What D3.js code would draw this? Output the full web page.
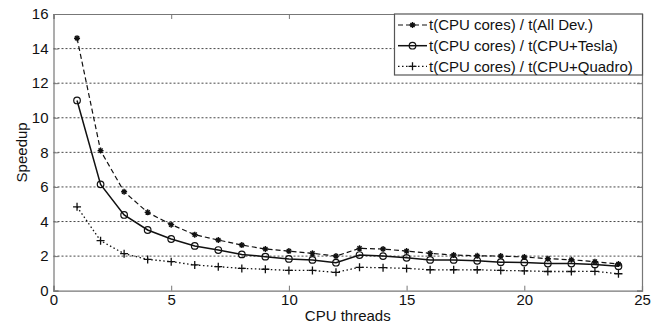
<!DOCTYPE html>
<html>
<head>
<meta charset="utf-8">
<script src="https://cdn.jsdelivr.net/npm/d3@7"></script>
<style>
  body { margin: 0; background: #fff; }
  svg { display: block; font-family: "Liberation Sans", Arial, sans-serif; }
</style>
</head>
<body>
<div id="chart"></div>
<script>
// Width and height
var chart_width  = 657;
var chart_height = 323;

// data
var threads = [1,2,3,4,5,6,7,8,9,10,11,12,13,14,15,16,17,18,19,20,21,22,23,24];
var allDev  = [14.6,8.1,5.72,4.53,3.82,3.24,2.93,2.64,2.41,2.29,2.16,2.0,2.45,2.41,2.29,2.16,2.06,2.02,2.0,1.95,1.85,1.79,1.68,1.54];
var tesla   = [11.0,6.15,4.38,3.51,2.99,2.59,2.35,2.1,1.97,1.84,1.78,1.62,2.06,2.0,1.9,1.78,1.78,1.73,1.65,1.63,1.57,1.57,1.52,1.42];
var quadro  = [4.85,2.89,2.14,1.81,1.68,1.49,1.39,1.29,1.24,1.17,1.17,1.06,1.35,1.33,1.29,1.21,1.21,1.21,1.17,1.15,1.11,1.11,1.12,0.98];
var x_ticks = [0,5,10,15,20,25];
var y_ticks = [0,2,4,6,8,10,12,14,16];
var legend_labels = ["t(CPU cores) / t(All Dev.)", "t(CPU cores) / t(CPU+Tesla)", "t(CPU cores) / t(CPU+Quadro)"];

var margin = {left: 53.5, right: 15, top: 14, bottom: 32.3};

var x = d3.scaleLinear().domain([0, 25]).range([margin.left, chart_width - margin.right]);
var y = d3.scaleLinear().domain([0, 16]).range([chart_height - margin.bottom, margin.top]);

var svg = d3.select("#chart")
    .append("svg")
    .attr("width", chart_width)
    .attr("height", chart_height);

// grid lines
svg.append("g")
    .selectAll("line")
    .data(y_ticks.filter(function(d){ return d > 0 && d < 16; }))
    .enter()
    .append("line")
    .attr("x1", x(0)).attr("x2", x(25))
    .attr("y1", function(d){ return y(d); })
    .attr("y2", function(d){ return y(d); })
    .attr("stroke", "#333")
    .attr("stroke-width", 0.9)
    .attr("stroke-dasharray", "2,2");

// axes (inward ticks, MATLAB style)
var xAxis = svg.append("g")
    .attr("transform", "translate(0," + y(0) + ")")
    .call(d3.axisBottom(x).tickValues(x_ticks).tickSize(-5).tickPadding(5));
var xTop = svg.append("g")
    .attr("transform", "translate(0," + y(16) + ")")
    .call(d3.axisTop(x).tickValues(x_ticks).tickSize(-5).tickFormat(""));
var yAxis = svg.append("g")
    .attr("transform", "translate(" + x(0) + ",0)")
    .call(d3.axisLeft(y).tickValues(y_ticks).tickSize(-5).tickPadding(5));
var yRight = svg.append("g")
    .attr("transform", "translate(" + x(25) + ",0)")
    .call(d3.axisRight(y).tickValues(y_ticks).tickSize(-5).tickFormat(""));

[xAxis, xTop, yAxis, yRight].forEach(function(g){
    g.select(".domain").attr("stroke", "#777").attr("stroke-width", 1.2);
    g.selectAll(".tick line").attr("stroke", "#777");
    g.selectAll(".tick text")
        .attr("fill", "#111")
        .style("font-size", "15px")
        .style("font-family", "Liberation Sans, Arial, sans-serif");
});
xAxis.selectAll(".tick text").attr("dy", "0.6em");

// axis titles
svg.append("text")
    .attr("x", (x(0) + x(25)) / 2)
    .attr("y", 321)
    .attr("text-anchor", "middle")
    .style("font-size", "15px")
    .attr("fill", "#111")
    .text("CPU threads");

svg.append("text")
    .attr("transform", "translate(27," + ((y(0) + y(16)) / 2) + ") rotate(-90)")
    .attr("text-anchor", "middle")
    .style("font-size", "15px")
    .attr("fill", "#111")
    .text("Speedup");

// series
var series = [
    {values: allDev, dash: "5,3", width: 1.2, marker: "star"},
    {values: tesla,  dash: null,  width: 1.5, marker: "circle"},
    {values: quadro, dash: "1.5,2.5", width: 1.3, marker: "plus"}
];

function drawMarker(g, kind, cx, cy) {
    if (kind === "circle") {
        g.append("circle").attr("cx", cx).attr("cy", cy).attr("r", 3.3)
            .attr("fill", "none").attr("stroke", "#111").attr("stroke-width", 1.2);
    } else if (kind === "plus") {
        g.append("path")
            .attr("d", "M" + (cx - 4) + "," + cy + "H" + (cx + 4) + "M" + cx + "," + (cy - 4) + "V" + (cy + 4))
            .attr("stroke", "#111").attr("stroke-width", 1.3);
    } else {
        var r = 3, d = r * 0.7;
        g.append("path")
            .attr("d", "M" + (cx - r) + "," + cy + "H" + (cx + r) +
                       "M" + cx + "," + (cy - r) + "V" + (cy + r) +
                       "M" + (cx - d) + "," + (cy - d) + "L" + (cx + d) + "," + (cy + d) +
                       "M" + (cx - d) + "," + (cy + d) + "L" + (cx + d) + "," + (cy - d))
            .attr("stroke", "#111").attr("stroke-width", 1.4);
    }
}

var line = d3.line()
    .x(function(d, i){ return x(threads[i]); })
    .y(function(d){ return y(d); });

series.forEach(function(s){
    svg.append("path")
        .attr("d", line(s.values))
        .attr("fill", "none")
        .attr("stroke", "#111")
        .attr("stroke-width", s.width)
        .attr("stroke-dasharray", s.dash);
    var mg = svg.append("g");
    s.values.forEach(function(v, i){
        drawMarker(mg, s.marker, x(threads[i]), y(v));
    });
});

// legend
var lg = svg.append("g");
lg.append("rect")
    .attr("x", 394.5).attr("y", y(16))
    .attr("width", 248).attr("height", 61)
    .attr("fill", "#fff")
    .attr("stroke", "#555").attr("stroke-width", 1.2);

var legend_y = [25, 45.7, 66.3];
series.forEach(function(s, i){
    var ly = legend_y[i];
    lg.append("line")
        .attr("x1", 398).attr("x2", 427)
        .attr("y1", ly).attr("y2", ly)
        .attr("stroke", "#111")
        .attr("stroke-width", s.width)
        .attr("stroke-dasharray", s.dash);
    drawMarker(lg, s.marker, 412.5, ly);
    lg.append("text")
        .attr("x", 429).attr("y", ly)
        .attr("dy", "0.35em")
        .style("font-size", "15px")
        .attr("fill", "#111")
        .text(legend_labels[i]);
});
</script>
</body>
</html>
